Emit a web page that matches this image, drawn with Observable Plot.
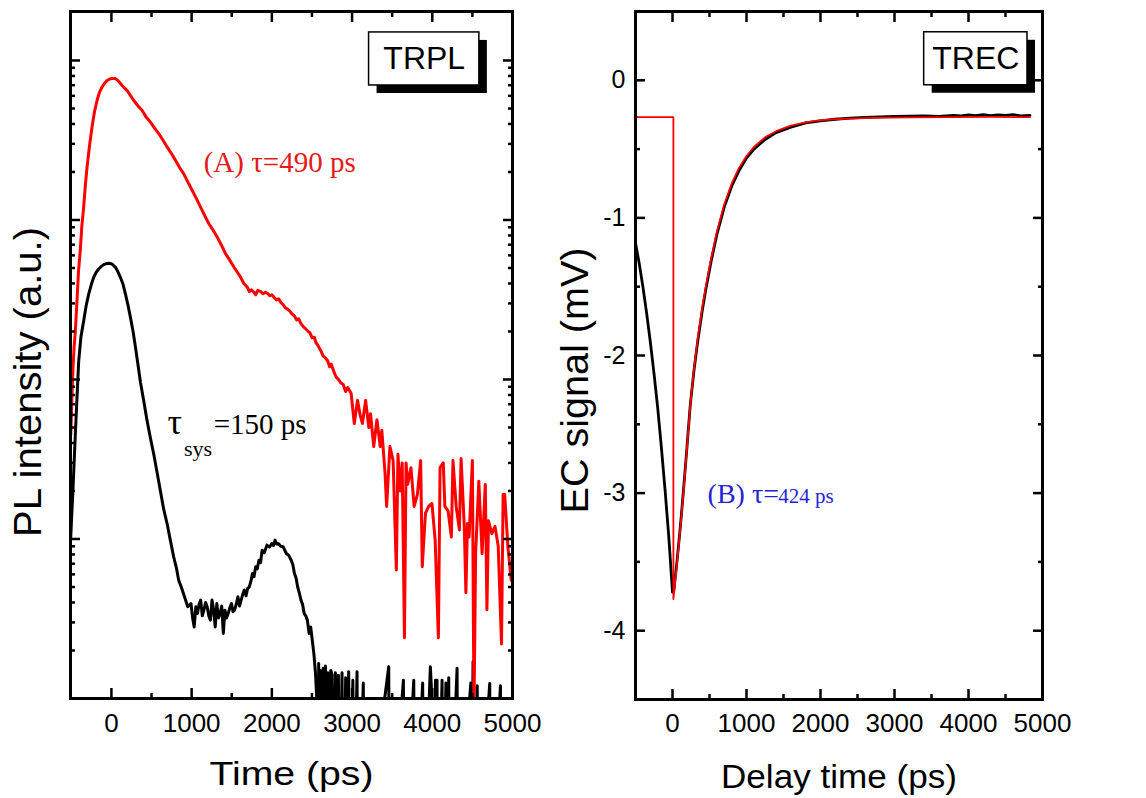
<!DOCTYPE html>
<html><head><meta charset="utf-8">
<script src="https://cdn.jsdelivr.net/npm/d3@7"></script>
<script src="https://cdn.jsdelivr.net/npm/@observablehq/plot@0.6"></script>
<style>
html,body{margin:0;padding:0;background:#fff;}
#wrap{position:relative;width:1146px;height:798px;overflow:hidden;background:#fff;}
#wrap svg{position:absolute;top:0;max-width:none;}
</style></head><body><div id="wrap"></div>
<script>
// ---- data: TRPL (left panel), [time ps, PL intensity a.u.] ----
const trplRed = [[-506,45],[-495,70],[-480,115],[-465,160],[-450,200],[-429,312],[-410,480],[-388,643],[-370,900],[-346,1200],[-325,1650],[-304,2140],[-270,3000],[-242,3810],[-210,4800],[-179,5610],[-150,6300],[-117,6810],[-85,7200],[-54,7490],[-20,7650],[8,7700],[40,7720],[71,7570],[100,7300],[133,6970],[165,6700],[196,6480],[240,6000],[279,5610],[330,5200],[383,4860],[435,4400],[488,4100],[540,3750],[592,3470],[645,3150],[696,2860],[750,2600],[800,2360],[850,2130],[904,1940],[955,1720],[1008,1530],[1060,1360],[1113,1200],[1165,1060],[1217,944],[1270,860],[1321,778],[1375,690],[1425,612],[1475,560],[1529,505],[1570,470],[1612,437],[1650,400],[1696,378],[1720,355],[1745,365],[1779,351],[1800,340],[1825,362],[1862,356],[1890,345],[1920,352],[1946,347],[1975,335],[2000,340],[2029,327],[2060,315],[2085,320],[2113,304],[2140,295],[2165,283],[2196,276],[2225,268],[2250,258],[2279,251],[2310,236],[2335,240],[2363,224],[2390,215],[2420,208],[2446,202],[2475,196],[2500,183],[2529,184],[2550,170],[2570,165],[2590,158],[2612,151],[2640,140],[2670,136],[2696,131],[2720,120],[2740,125],[2779,110],[2800,104],[2830,100],[2862,95],[2890,93],[2920,84],[2946,89],[2988,82],[3028,53],[3068,74],[3100,60],[3129,53],[3169,74],[3209,50],[3230,61],[3270,38],[3310,56],[3351,38],[3371,48],[3411,26],[3431,16],[3472,38],[3512,31],[3552,6.4],[3572,34],[3600,20],[3625,30],[3653,2.4],[3673,30],[3693,22],[3734,28],[3774,16],[3814,19],[3855,31],[3875,6.7],[3915,14.5],[3955,16],[3996,16.7],[4036,9.8],[4076,2.4],[4097,28],[4137,30],[4157,16],[4197,15],[4238,10.3],[4258,31],[4298,16],[4338,11.4],[4359,32],[4399,12],[4419,4.6],[4439,12.5],[4459,10.3],[4500,31],[4520,0.8],[4540,8],[4580,23],[4621,8.1],[4661,22],[4681,3.6],[4701,13],[4742,10.8],[4782,12],[4822,9],[4863,2.2],[4883,19],[4903,19],[4943,8.9],[4984,5.5],[5000,7]];

const trplBlack = [[-508,10],[-495,14],[-480,20],[-465,30],[-450,45],[-430,75],[-408,130],[-380,185],[-346,233],[-315,290],[-283,343],[-250,395],[-221,437],[-190,470],[-158,493],[-125,512],[-96,525],[-65,532],[-33,535],[8,530],[50,505],[80,475],[112,437],[145,395],[175,343],[205,295],[237,245],[270,200],[300,159],[330,125],[362,96],[400,75],[445,55],[490,42],[528,34],[570,26],[611,20],[650,15.5],[694,12.5],[735,9.8],[777,7.7],[810,6.6],[839,5.5],[871,5.0],[911,4.34],[952,3.76],[992,3.94],[1012,3.2],[1032,2.81],[1052,3.76],[1073,3.41],[1093,3.9],[1113,4.14],[1133,3.3],[1153,3.58],[1174,4.0],[1194,3.76],[1214,3.3],[1234,3.1],[1254,4.14],[1274,3.6],[1294,2.81],[1314,3.94],[1334,3.2],[1355,3.41],[1375,3.8],[1395,2.56],[1415,3.58],[1435,3.2],[1456,3.41],[1476,3.7],[1496,3.94],[1516,3.5],[1536,3.58],[1556,3.9],[1577,4.34],[1597,3.8],[1617,4.14],[1637,4.5],[1657,4.78],[1678,4.4],[1698,4.9],[1718,5.0],[1738,5.4],[1758,6.08],[1778,5.8],[1798,6.69],[1818,6.5],[1839,7.36],[1859,7.1],[1879,8.51],[1905,8.2],[1939,9.15],[1970,8.9],[2000,9.37],[2020,9.1],[2040,9.84],[2060,9.3],[2081,9.37],[2110,9.0],[2141,8.93],[2181,8.11],[2210,7.9],[2242,7.36],[2262,6.9],[2282,6.08],[2302,5.7],[2322,5.0],[2342,4.6],[2363,4.14],[2383,3.9],[2403,3.41],[2423,3.3],[2443,3.1],[2464,2.56],[2484,2.81],[2504,2.32],[2524,1.91],[2544,1.44],[2560,1.0],[2572,0.1],[2584,1.66],[2596,0.1],[2610,1.5],[2622,0.1],[2640,1.55],[2652,0.1],[2668,1.6],[2680,0.1],[2700,1.45],[2712,0.1],[2735,1.5],[2751,1.4],[2763,0.1],[2792,1.45],[2804,0.1],[2830,1.4],[2842,0.1],[2875,1.45],[2887,0.1],[2920,1.35],[2932,0.1],[2958,1.47],[2970,0.1],[3010,1.3],[3022,0.1],[3062,1.47],[3074,0.1],[3140,1.25],[3152,0.1],[3457,1.58],[3469,0.1],[3640,1.3],[3652,0.1],[3769,1.3],[3781,0.1],[3880,1.25],[3892,0.1],[3976,1.58],[3988,1.2],[4000,0.1],[4040,1.3],[4059,1.3],[4071,0.1],[4122,1.3],[4134,0.1],[4170,1.25],[4182,0.1],[4205,1.35],[4217,0.1],[4309,1.55],[4321,0.1],[4480,1.25],[4492,0.1],[4508,1.7],[4520,0.1],[4560,1.2],[4572,0.1],[4716,1.24],[4728,0.1],[4850,1.2],[4862,0.1],[5000,0.1]];

// ---- data: TREC (right panel), [delay ps, EC signal mV] ----
const trecBlack = [[-500,-1.18],[-450,-1.33],[-400,-1.5],[-350,-1.69],[-300,-1.9],[-250,-2.13],[-200,-2.38],[-150,-2.67],[-100,-2.98],[-50,-3.32],[0,-3.72],[15,-3.72],[60,-3.5],[105,-3.25],[150,-2.97],[195,-2.67],[240,-2.36],[290,-2.11],[340,-1.9],[400,-1.68],[450,-1.52],[520,-1.32],[600,-1.12],[700,-0.92],[800,-0.77],[900,-0.655],[1000,-0.565],[1100,-0.5],[1250,-0.43],[1400,-0.38],[1600,-0.34],[1800,-0.31],[2000,-0.295],[2200,-0.283],[2400,-0.275],[2600,-0.27],[2800,-0.266],[3000,-0.262],[3200,-0.26],[3400,-0.258],[3600,-0.262],[3800,-0.255],[3900,-0.258],[4000,-0.252],[4100,-0.257],[4200,-0.25],[4300,-0.256],[4400,-0.251],[4500,-0.255],[4600,-0.25],[4700,-0.258],[4830,-0.255]];

const trecRed = [[-500,-0.267],[12,-0.267],[12,-3.77],[60,-3.52],[105,-3.26],[150,-2.98],[195,-2.68],[240,-2.36],[290,-2.1],[340,-1.88],[400,-1.66],[450,-1.5],[520,-1.3],[600,-1.1],[700,-0.9],[800,-0.75],[900,-0.635],[1000,-0.55],[1100,-0.485],[1250,-0.415],[1400,-0.37],[1600,-0.33],[1800,-0.305],[2000,-0.29],[2300,-0.28],[2700,-0.273],[3200,-0.269],[3800,-0.267],[4300,-0.266],[4830,-0.268]];

// ---- ticks ----
const xMajor = [0, 1000, 2000, 3000, 4000, 5000];
const xMinor = [500, 1500, 2500, 3500, 4500];
const plMajor = [1, 10, 100, 1000, 10000];
const plMinor = [2,3,4,5,6,7,8,9,20,30,40,50,60,70,80,90,200,300,400,500,600,700,800,900,2000,3000,4000,5000,6000,7000,8000,9000];
const ecMajor = [-4, -3, -2, -1, 0];
const ecMinor = [-3.5, -2.5, -1.5, -0.5];

// ---- annotations ----
const plNotes = [
  {t: 1150, v: 1990, text: "(A) τ=490 ps", size: 29, color: "#e41a1c"},
  {t: 700, v: 45.8, text: "τ", size: 36, color: "#000"},
  {t: 905, v: 32.9, text: "sys", size: 22, color: "#000"},
  {t: 1275, v: 45.8, text: "=150 ps", size: 29, color: "#000"}
];
const ecNotes = [
  {t: 474, v: -3.07, text: "(B) τ=", size: 28, color: "#2424d6"},
  {t: 1430, v: -3.07, text: "424 ps", size: 21, color: "#2424d6"}
];
const plBox = [{x1: 3212, x2: 4587, y1: 6970, y2: 14990, cx: 3900, cy: 10300, label: "TRPL"}];
const ecBox = [{x1: 3401, x2: 4797, y1: -0.036, y2: 0.349, cx: 4099, cy: 0.16, label: "TREC"}];

const SANS = "Liberation Sans, Arial, sans-serif";
const SERIF = "Liberation Serif, Times New Roman, serif";

function tickMarks(xMaj, xMin, yMaj, yMin) {
  const out = [];
  const add = (axis, ticks, size) => {
    for (const anchor of (axis === "x" ? ["bottom", "top"] : ["left", "right"])) {
      const off = (anchor === "bottom" || anchor === "right") ? -size : size;
      const o = {anchor, tickSize: size, fill: "none", label: null, strokeWidth: 2.5};
      out.push(axis === "x" ? Plot.axisX(ticks, {...o, dy: off}) : Plot.axisY(ticks, {...o, dx: off}));
    }
  };
  add("x", xMaj, 10); add("x", xMin, 5); add("y", yMaj, 10); add("y", yMin, 5);
  return out;
}

function boxMarks(box) {
  return [
    Plot.rect(box, {x1: "x1", x2: "x2", y1: "y1", y2: "y2", fill: "#000", dx: 8, dy: 8}),
    Plot.rect(box, {x1: "x1", x2: "x2", y1: "y1", y2: "y2", fill: "#fff", stroke: "#000", strokeWidth: 1.5}),
    Plot.text(box, {x: "cx", y: "cy", text: "label", fontSize: 32, fontFamily: SANS, fill: "#000"})
  ];
}

function noteMarks(notes) {
  return notes.map(n => Plot.text([n], {x: "t", y: "v", text: "text", fontSize: n.size, fill: n.color,
    fontFamily: SERIF, textAnchor: "start", lineAnchor: "bottom"}));
}

function fitText(svg, content, len) {
  for (const el of svg.querySelectorAll("text")) {
    if (el.textContent === content) {
      el.setAttribute("textLength", len);
      el.setAttribute("lengthAdjust", "spacingAndGlyphs");
    }
  }
}

const left = Plot.plot({
  width: 540, height: 798,
  marginLeft: 70, marginRight: 28, marginTop: 11, marginBottom: 100,
  style: {fontFamily: SANS, background: "#fff", color: "#000", overflow: "visible"},
  x: {domain: [-510, 5000]},
  y: {type: "log", domain: [1, 20280]},
  marks: [
    Plot.line(trplBlack, {x: d => d[0], y: d => d[1], stroke: "#000", strokeWidth: 3, clip: true}),
    Plot.line(trplRed, {x: d => d[0], y: d => d[1], stroke: "#ff0000", strokeWidth: 3, clip: true}),
    ...tickMarks(xMajor, xMinor, plMajor, plMinor),
    Plot.axisX(xMajor, {anchor: "bottom", tickSize: 0, tickPadding: 15, fontSize: 26, fontFamily: SANS, tickFormat: d => String(d), label: null}),
    Plot.frame({stroke: "#000", strokeWidth: 3}),
    ...boxMarks(plBox),
    ...noteMarks(plNotes),
    Plot.text(["Time (ps)"], {frameAnchor: "bottom", dy: 86, textAnchor: "middle", lineAnchor: "bottom", text: d => d, fontSize: 33, fontFamily: SANS, fill: "#000"}),
    Plot.text(["PL intensity (a.u.)"], {frameAnchor: "left", dx: -30, dy: 27, rotate: -90, textAnchor: "middle", lineAnchor: "bottom", text: d => d, fontSize: 38, fontFamily: SANS, fill: "#000"})
  ]
});

const right = Plot.plot({
  width: 586, height: 798,
  marginLeft: 75, marginRight: 104, marginTop: 11, marginBottom: 99,
  style: {fontFamily: SANS, background: "#fff", color: "#000", overflow: "visible"},
  x: {domain: [-500, 5000]},
  y: {domain: [-4.5, 0.5]},
  marks: [
    Plot.line(trecBlack, {x: d => d[0], y: d => d[1], stroke: "#000", strokeWidth: 2.8, clip: true}),
    Plot.line(trecRed, {x: d => d[0], y: d => d[1], stroke: "#ff0000", strokeWidth: 1.8, clip: true}),
    ...tickMarks(xMajor, xMinor, ecMajor, ecMinor),
    Plot.axisX(xMajor, {anchor: "bottom", tickSize: 0, tickPadding: 14, fontSize: 26, fontFamily: SANS, tickFormat: d => String(d), label: null}),
    Plot.axisY(ecMajor, {anchor: "left", tickSize: 0, tickPadding: 10, fontSize: 25, fontFamily: SANS, tickFormat: d => String(d), label: null}),
    Plot.frame({stroke: "#000", strokeWidth: 3}),
    ...boxMarks(ecBox),
    ...noteMarks(ecNotes),
    Plot.text(["Delay time (ps)"], {frameAnchor: "bottom", dy: 88, textAnchor: "middle", lineAnchor: "bottom", text: d => d, fontSize: 34, fontFamily: SANS, fill: "#000"}),
    Plot.text(["EC signal (mV)"], {frameAnchor: "left", dx: -48, dy: 25, rotate: -90, textAnchor: "middle", lineAnchor: "bottom", text: d => d, fontSize: 38, fontFamily: SANS, fill: "#000"})
  ]
});

fitText(left, "Time (ps)", 164);
fitText(left, "PL intensity (a.u.)", 310);
fitText(right, "Delay time (ps)", 236);
fitText(right, "EC signal (mV)", 266);

left.style.left = "0px";
right.style.left = "560px";
const wrap = document.getElementById("wrap");
wrap.appendChild(left);
wrap.appendChild(right);
</script></body></html>
